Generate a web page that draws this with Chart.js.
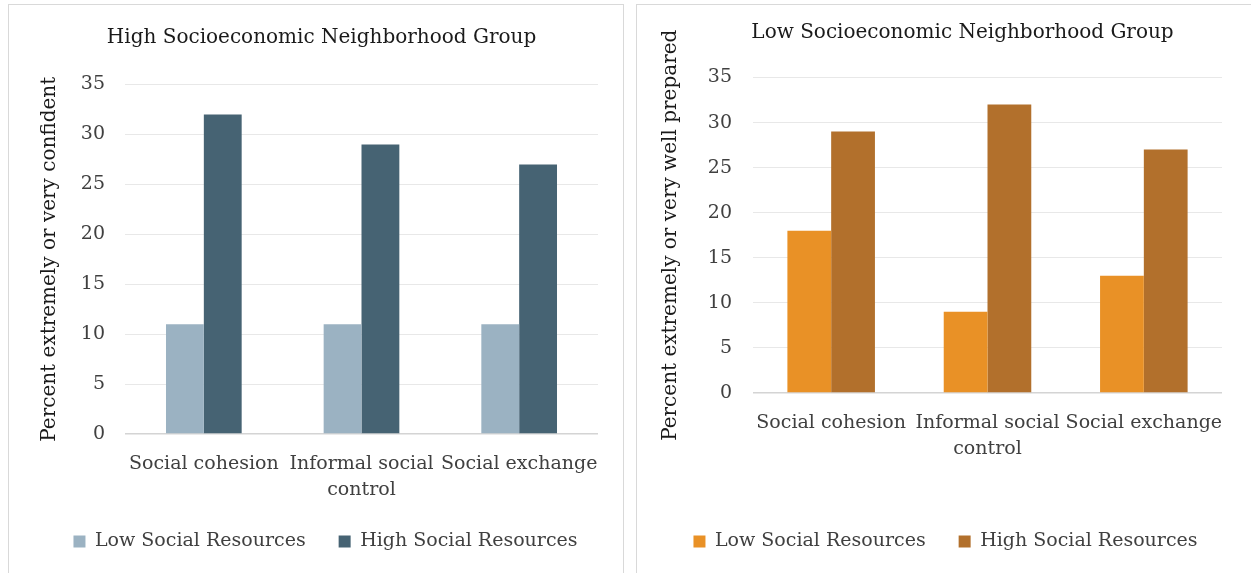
<!DOCTYPE html>
<html><head><meta charset="utf-8">
<script src="https://cdn.jsdelivr.net/npm/chart.js@4.4.1/dist/chart.umd.min.js"></script>
<style>
html,body{margin:0;padding:0;background:#fff;width:1251px;height:573px;overflow:hidden;}
.panel{position:absolute;top:4px;height:580px;border:1.5px solid #d9d9d9;box-sizing:border-box;background:#fff;}
#p1{left:8px;width:616px;}
#p2{left:636px;width:620px;}
canvas{display:block;}
</style></head><body>
<div class="panel" id="p1"><canvas id="c1" width="613" height="570"></canvas></div>
<div class="panel" id="p2"><canvas id="c2" width="617" height="570"></canvas></div>
<script>
const categories = ['Social cohesion', ['Informal social','control'], 'Social exchange'];
const seriesNames = ['Low Social Resources', 'High Social Resources'];
const highSES_low = [11, 11, 11];
const highSES_high = [32, 29, 27];
const lowSES_low = [18, 9, 13];
const lowSES_high = [29, 32, 27];
const yTicks = [0, 5, 10, 15, 20, 25, 30, 35];

const FONT = "'DejaVu Serif', serif";
Chart.defaults.font.family = FONT;
Chart.defaults.color = '#404040';

const shiftPlugin = {
  id: 'shiftBlocks',
  afterLayout(chart, args, opts) {
    if (chart.titleBlock) { chart.titleBlock.left += opts.title; chart.titleBlock.right += opts.title; }
    if (chart.legend) { chart.legend.left += opts.legend; chart.legend.right += opts.legend; }
  }
};

function make(id, title, yTitle, lowData, highData, colors, cfg) {
  return new Chart(document.getElementById(id), {
    type: 'bar',
    plugins: [shiftPlugin],
    data: {
      labels: categories,
      datasets: [
        {label: seriesNames[0], data: lowData, backgroundColor: colors[0], borderWidth: 0},
        {label: seriesNames[1], data: highData, backgroundColor: colors[1], borderWidth: 0}
      ]
    },
    options: {
      responsive: false,
      animation: false,
      devicePixelRatio: 1,
      categoryPercentage: cfg.catPct,
      barPercentage: 1,
      layout: {padding: cfg.pad},
      plugins: {
        shiftBlocks: cfg.shift,
        tooltip: {enabled: false},
        title: {display: true, text: title, color: '#1a1a1a', font: {size: 20, weight: 'normal', family: FONT, lineHeight: 1.2}, padding: cfg.titlePad},
        legend: {position: 'bottom', labels: {boxWidth: 12, boxHeight: 12, color: '#404040', font: {size: 19, family: FONT}, padding: cfg.legendGap}}
      },
      scales: {
        x: {
          grid: {display: false, drawTicks: false},
          border: {display: false},
          ticks: {color: '#404040', font: {size: 19, family: FONT, lineHeight: 1.37}, maxRotation: 0, autoSkip: false, padding: 17},
          afterFit: s => { s.height = cfg.xH; }
        },
        y: {
          min: 0, max: 35,
          afterBuildTicks: s => { s.ticks = yTicks.map(v => ({value: v})); },
          grid: {color: c => c.tick && c.tick.value === 0 ? '#d4d4d4' : '#e8e8e8', lineWidth: c => c.tick && c.tick.value === 0 ? 1.5 : 1, drawTicks: false},
          border: {display: false},
          ticks: {color: '#404040', font: {size: 19, family: FONT}, padding: cfg.yTickPad},
          title: {display: true, text: yTitle, color: '#1a1a1a', font: {size: 20, family: FONT}, padding: {top: cfg.yTitleOff, bottom: 0}},
          afterFit: s => { s.width = cfg.yW; }
        }
      }
    }
  });
}

make('c1', 'High Socioeconomic Neighborhood Group', 'Percent extremely or very confident',
  highSES_low, highSES_high, ['#9bb2c2', '#466373'],
  {catPct: 0.48, pad: {left: 18, right: 24, top: 10, bottom: 14}, titlePad: {top: 10.5, bottom: 35},
   legendGap: 33, xH: 65, yW: 98, yTickPad: 20, yTitleOff: 11, shift: {title: 9, legend: 13}});

make('c2', 'Low Socioeconomic Neighborhood Group', 'Percent extremely or very well prepared',
  lowSES_low, lowSES_high, ['#e99126', '#b2702c'],
  {catPct: 0.56, pad: {left: 14, right: 32, top: 10, bottom: 14}, titlePad: {top: 5.5, bottom: 33},
   legendGap: 33, xH: 106, yW: 102, yTickPad: 21, yTitleOff: 8, shift: {title: 26, legend: 9}});
</script>
</body></html>
